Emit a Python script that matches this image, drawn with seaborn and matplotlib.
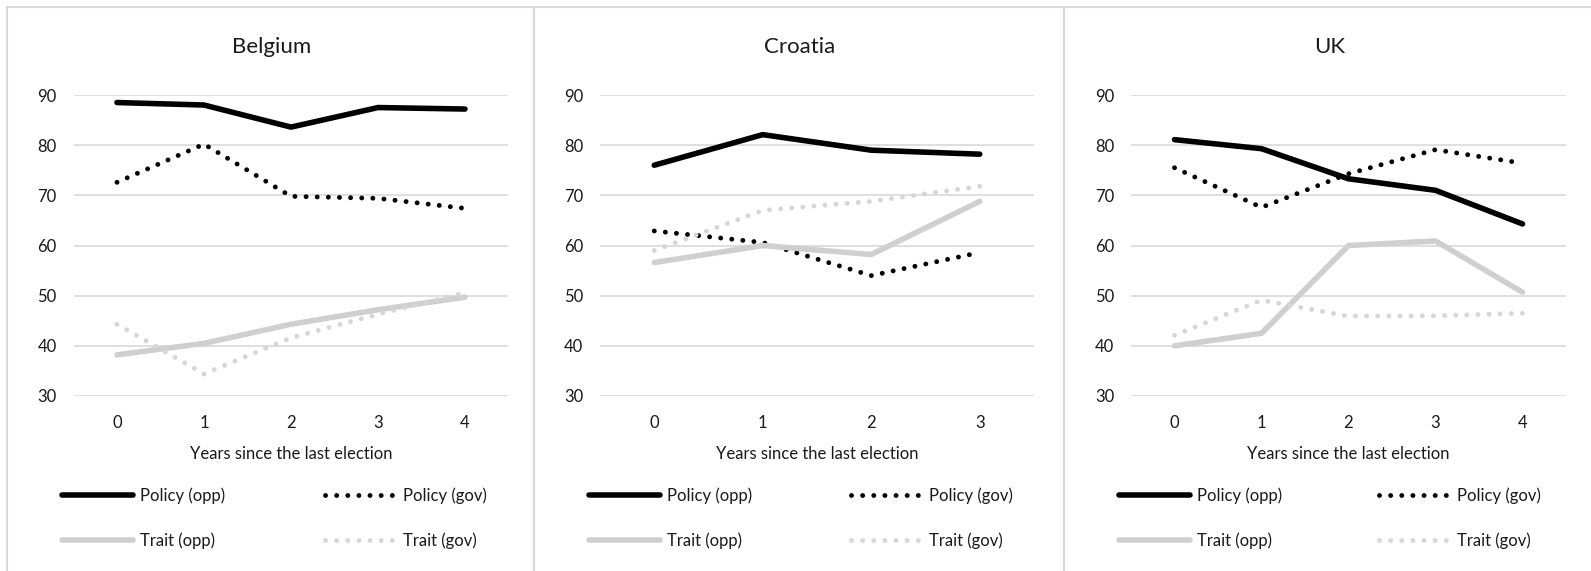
import matplotlib.pyplot as plt
import pandas as pd
import seaborn as sns
from matplotlib.patches import Rectangle

# values
countries = ['Belgium', 'Croatia', 'UK']
years = {
    'Belgium': [0, 1, 2, 3, 4],
    'Croatia': [0, 1, 2, 3],
    'UK': [0, 1, 2, 3, 4],
}
policy_opp = {
    'Belgium': [88.5, 88.0, 83.6, 87.5, 87.2],
    'Croatia': [76.0, 82.1, 79.0, 78.2],
    'UK': [81.1, 79.3, 73.3, 71.0, 64.3],
}
policy_gov = {
    'Belgium': [72.6, 80.2, 69.8, 69.4, 67.4],
    'Croatia': [62.9, 60.6, 54.0, 58.6],
    'UK': [75.5, 67.6, 74.3, 79.1, 76.4],
}
trait_opp = {
    'Belgium': [38.2, 40.5, 44.3, 47.2, 49.7],
    'Croatia': [56.6, 60.0, 58.2, 68.8],
    'UK': [40.0, 42.5, 60.0, 60.9, 50.7],
}
trait_gov = {
    'Belgium': [44.3, 34.4, 41.6, 46.3, 50.6],
    'Croatia': [59.0, 67.0, 68.8, 71.8],
    'UK': [42.1, 49.1, 45.9, 46.0, 46.5],
}
series_names = ['Policy (opp)', 'Policy (gov)', 'Trait (opp)', 'Trait (gov)']
y_ticks = [30, 40, 50, 60, 70, 80, 90]

sns.set_style('white')
plt.rcParams['font.family'] = ['Lato', 'DejaVu Sans']

W, H = 1591, 571
fig = plt.figure(figsize=(W / 100, H / 100), dpi=100)

dot = (0, (0.01, 2.28))
styles = {
    'Policy (opp)': dict(color='black', linestyle='-', linewidth=4.0, solid_capstyle='round'),
    'Policy (gov)': dict(color='black', linestyle=dot, linewidth=3.5, dash_capstyle='round'),
    'Trait (opp)': dict(color='#cfcfcf', linestyle='-', linewidth=4.0, solid_capstyle='round'),
    'Trait (gov)': dict(color='#d6d6d6', linestyle=dot, linewidth=3.5, dash_capstyle='round'),
}

# layout in pixels: panel box, axes box, title x, legend column x
panels = {
    'Belgium': dict(box=(7, 534), ax=(73.5, 508.5), title=272, leg=(62, 325)),
    'Croatia': dict(box=(534, 1064), ax=(600, 1034), title=800, leg=(589, 851)),
    'UK': dict(box=(1064, 1600), ax=(1131, 1566), title=1330, leg=(1119, 1379)),
}
ax_top, ax_bot = 95, 396
txt = '#1a1a1a'

for c in countries:
    p = panels[c]
    x0, x1 = p['ax']
    ax = fig.add_axes([x0 / W, 1 - ax_bot / H, (x1 - x0) / W, (ax_bot - ax_top) / H])

    df = pd.DataFrame({
        'year': years[c] * 4,
        'value': policy_opp[c] + policy_gov[c] + trait_opp[c] + trait_gov[c],
        'series': sum([[s] * len(years[c]) for s in series_names], []),
    })
    for s in series_names:
        sub = df[df['series'] == s]
        sns.lineplot(data=sub, x='year', y='value', ax=ax, label=s, **styles[s])

    ax.set_xlim(-0.5, len(years[c]) - 0.5)
    ax.set_ylim(30, 90)
    ax.set_yticks(y_ticks)
    ax.set_xticks(years[c])
    ax.grid(axis='y', color='#d9d9d9', linewidth=1.2)
    ax.set_axisbelow(True)
    for sp in ax.spines.values():
        sp.set_visible(False)
    ax.tick_params(axis='both', length=0, labelsize=12, colors=txt)
    ax.tick_params(axis='y', pad=12)
    ax.tick_params(axis='x', pad=14)
    ax.set_xlabel('Years since the last election', fontsize=12, color=txt, va='baseline')
    ax.xaxis.set_label_coords((x0 + x1) / 2 / W, 1 - 459 / H, transform=fig.transFigure)
    ax.set_ylabel('')

    # panel frame and title
    bx0, bx1 = p['box']
    fig.add_artist(Rectangle((bx0 / W, -0.05), (bx1 - bx0) / W, 1.05 - 7 / H,
                             transform=fig.transFigure, fill=False,
                             edgecolor='#d9d9d9', linewidth=1.5))
    fig.text(p['title'] / W, 1 - 53 / H, c, ha='center', va='baseline', fontsize=16, color=txt)

    # legend: two columns, drawn as two legends
    handles, labels = ax.get_legend_handles_labels()
    ax.get_legend().remove()
    lk = dict(frameon=False, loc='center left', bbox_transform=fig.transFigure,
              borderpad=0, borderaxespad=0, handlelength=4.26, handletextpad=0.42,
              labelspacing=1.7, fontsize=12, labelcolor=txt)
    leg1 = ax.legend([handles[0], handles[2]], [labels[0], labels[2]],
                     bbox_to_anchor=(p['leg'][0] / W, 1 - 518 / H), **lk)
    ax.add_artist(leg1)
    ax.legend([handles[1], handles[3]], [labels[1], labels[3]],
              bbox_to_anchor=(p['leg'][1] / W, 1 - 518 / H), **lk)

fig.savefig('out.png', dpi=100, facecolor='white')
